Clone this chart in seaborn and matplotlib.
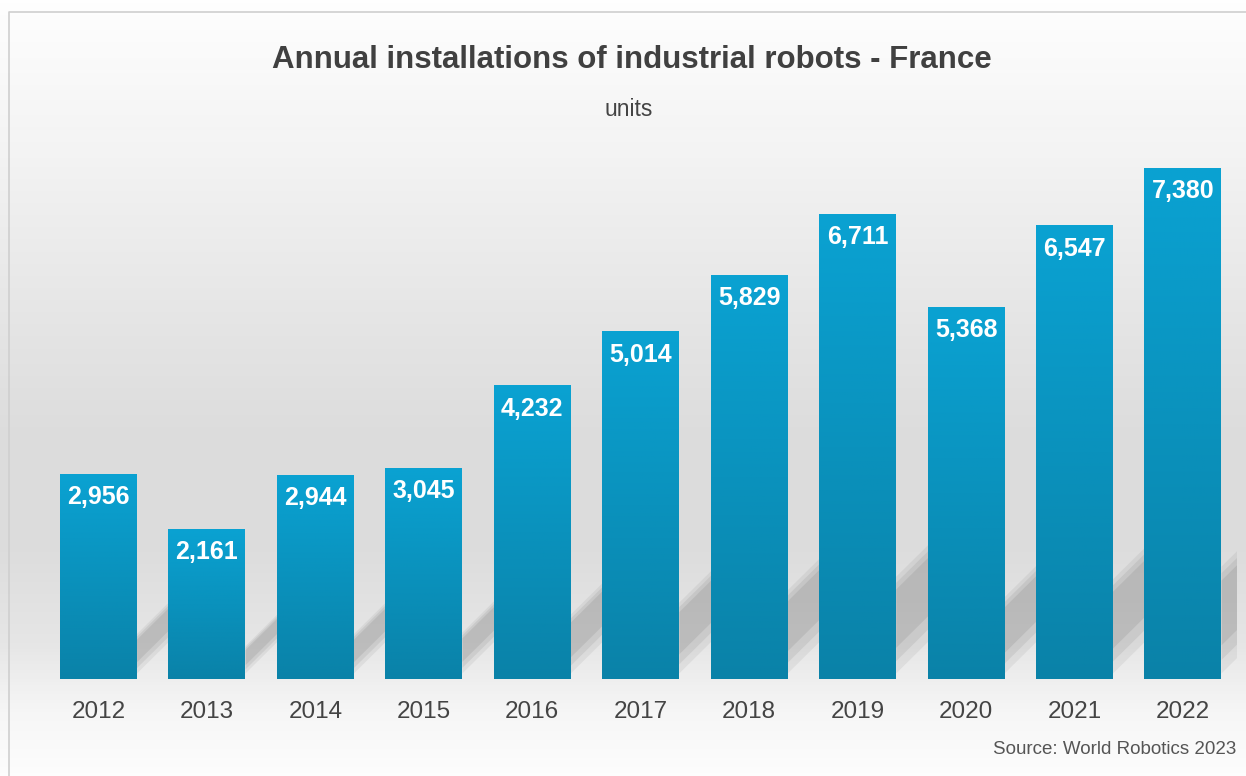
"""
Annual installations of industrial robots in France (World Robotics 2023),
drawn as a seaborn bar chart with gradient bars and a soft floor shadow.
"""

import matplotlib

matplotlib.use("Agg")
import matplotlib.pyplot as plt
import numpy as np
import pandas as pd
import seaborn as sns
from matplotlib.colors import LinearSegmentedColormap
from matplotlib.patches import Polygon

# data
years = ["2012", "2013", "2014", "2015", "2016", "2017", "2018", "2019", "2020", "2021", "2022"]
installations = [2956, 2161, 2944, 3045, 4232, 5014, 5829, 6711, 5368, 6547, 7380]

title_text = "Annual installations of industrial robots - France"
subtitle_text = "units"
source_text = "Source: World Robotics 2023"

BAR_TOP = "#0aa2d2"
BAR_BOTTOM = "#0a82a8"
TEXT_DARK = "#444444"

sns.set_theme(style="white")
plt.rcParams["font.family"] = ["Liberation Sans", "DejaVu Sans"]

fig = plt.figure(figsize=(12.46, 7.76), dpi=100)
W, H = 1246, 776

# page background: vertical grey gradient behind everything
bg = fig.add_axes([0, 0, 1, 1], zorder=0)
bg_cmap = LinearSegmentedColormap.from_list(
    "bg",
    [
        (0.0, "#fdfdfd"),
        (0.08, "#f6f6f6"),
        (0.17, "#e6e6e6"),
        (0.30, "#dcdcdc"),
        (0.45, "#dddddd"),
        (0.60, "#e6e6e6"),
        (0.80, "#f3f3f3"),
        (1.0, "#fefefe"),
    ],
)
grad = np.linspace(0, 1, 256).reshape(-1, 1)
bg.imshow(grad, cmap=bg_cmap, aspect="auto", extent=[0, 1, 0, 1], origin="lower")
bg.set_xlim(0, 1)
bg.set_ylim(0, 1)
bg.axis("off")
# thin frame line along the left and top edges
bg.plot([9 / W, 9 / W, 1], [0, 1 - 12 / H, 1 - 12 / H], color="#cfcfcf", lw=1.2,
        transform=bg.transAxes, clip_on=False)

# plot area placed so that bar centres line up with the reference
ax = fig.add_axes([44.3 / W, 97 / H, 1192.9 / W, 553.9 / H], zorder=1)
ax.patch.set_alpha(0)

df = pd.DataFrame({"year": years, "units": installations})
sns.barplot(data=df, x="year", y="units", color=BAR_TOP, width=0.71, ax=ax,
            saturation=1, zorder=3)

ax.set_xlim(-0.5, len(years) - 0.5)
ax.set_ylim(0, 8000)

bar_cmap = LinearSegmentedColormap.from_list("bar", [BAR_BOTTOM, BAR_TOP])
bar_grad = np.linspace(0, 1, 256).reshape(-1, 1)
shadow_frac = 0.22     # shadow length relative to bar height
shadow_slope = 1550    # rise of the shadow (data units per x unit)

for patch, val in zip(ax.patches, installations):
    x0 = patch.get_x()
    w = patch.get_width()
    x1 = x0 + w
    h = patch.get_height()
    # soft floor shadow slanting up to the right of each bar (stacked layers)
    reach = 1 - w + 0.05
    sh = shadow_frac * h
    for k, a in [(0.0, 0.10), (0.12, 0.13), (0.25, 0.16)]:
        lo = 80 + k * sh
        hi = sh * (1 - 0.5 * k)
        poly = Polygon(
            [(x1, lo), (x1, hi), (x1 + reach, hi + shadow_slope * reach),
             (x1 + reach, lo + shadow_slope * reach)],
            closed=True, facecolor="#6f6f6f", edgecolor="none", alpha=a, zorder=2,
        )
        ax.add_patch(poly)
    # gradient fill inside the bar
    patch.set_facecolor("none")
    patch.set_edgecolor("none")
    ax.imshow(bar_grad, cmap=bar_cmap, aspect="auto", extent=[x0, x1, 0, h],
              origin="lower", zorder=3)
    ax.annotate(f"{val:,}", (x0 + w / 2, h), xytext=(0, -23),
                textcoords="offset pixels", ha="center", va="center",
                color="white", fontsize=18, fontweight="bold", zorder=5)

ax.set_xlim(-0.5, len(years) - 0.5)
ax.set_ylim(0, 8000)
ax.set_xlabel("")
ax.set_ylabel("")
ax.set_yticks([])
ax.tick_params(axis="x", length=0, pad=15.5, labelsize=17.5, labelcolor=TEXT_DARK)
sns.despine(ax=ax, left=True, bottom=True)

fig.text(632 / W, 1 - 60 / H, title_text, ha="center", va="center",
         fontsize=22.5, fontweight="bold", color="#404040")
fig.text(629 / W, 1 - 109 / H, subtitle_text, ha="center", va="center",
         fontsize=16.5, color=TEXT_DARK)
fig.text(1236 / W, 1 - 749 / H, source_text, ha="right", va="center",
         fontsize=13.5, color="#555555")

fig.savefig("out.png", dpi=100)
plt.close(fig)
